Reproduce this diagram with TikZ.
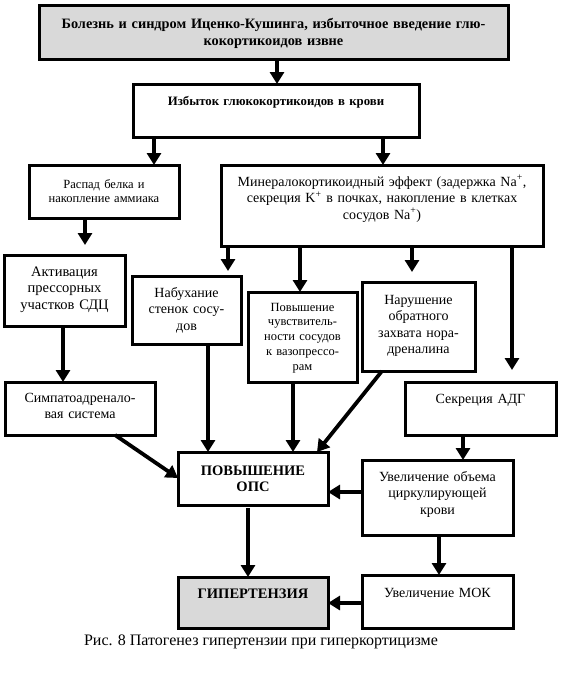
\documentclass[tikz,border=0pt]{standalone}
\usepackage{fontspec}
\setmainfont{Liberation Serif}
\usetikzlibrary{arrows.meta}
\definecolor{PGGray}{HTML}{D9D9D9}
\newcommand\fsN{\fontsize{14pt}{16.5pt}\selectfont}
\newcommand\fsS{\fontsize{12.5pt}{14.8pt}\selectfont}
\newcommand\fsL{\fontsize{14.5pt}{16.5pt}\selectfont}
\newcommand\fsB{\fontsize{14.3pt}{17pt}\selectfont\bfseries}
\newcommand\fsBs{\fontsize{12.8pt}{14pt}\selectfont\bfseries}
\newcommand\fsBL{\fontsize{14.5pt}{16.5pt}\selectfont\bfseries}
\newcommand\fsC{\fontsize{16pt}{18pt}\selectfont}

\begin{document}
\begin{tikzpicture}[x=1pt,y=-1pt,
  blk/.style={draw,line width=3pt,anchor=north west,inner sep=0pt,outer sep=0pt,align=center,font=\fsN},
  arr/.style={line width=3.8pt,-{Triangle[width=14pt,length=12pt]}}]
\path[use as bounding box] (0,0) rectangle (571,678);
\fill[white] (0,0) rectangle (571,678);
\node[blk,fill=PGGray,text width=469pt,text height=23pt,text depth=31pt,font=\fsB] (cush) at (39,5) {Болезнь и синдром Иценко-Кушинга, избыточное введение глю-\\кокортикоидов извне};
\node[blk,text width=286pt,text height=21pt,text depth=32pt,font=\fsBs] (excess) at (133,84) {Избыток глюкокортикоидов в крови};
\node[blk,text width=150pt,text height=23pt,text depth=30pt,font=\fsS] (protein) at (29,165) {Распад белка и\\накопление аммиака};
\node[blk,text width=322pt,text height=21pt,text depth=60pt] (mineral) at (221,165) {Минералокортикоидный эффект (задержка Na\textsuperscript{+},\\секреция K\textsuperscript{+} в почках, накопление в клетках\\сосудов Na\textsuperscript{+})};
\node[blk,text width=121pt,text height=21pt,text depth=50pt,font=\fsL] (sdc) at (4,255) {Активация\\прессорных\\участков СДЦ};
\node[blk,text width=109pt,text height=21pt,text depth=47pt] (swell) at (132,276) {Набухание\\стенок сосу-\\дов};
\node[blk,text width=109pt,text height=19pt,text depth=71pt,font=\fsS] (sens) at (248,292) {Повышение\\чувствитель-\\ности сосудов\\к вазопрессо-\\рам};
\node[blk,text width=113pt,text height=22pt,text depth=67pt] (reuptake) at (362,282) {Нарушение\\обратного\\захвата нора-\\дреналина};
\node[blk,text width=150pt,text height=20pt,text depth=33pt] (sympat) at (5,382) {Симпатоадренало-\\вая система};
\node[blk,text width=151pt,text height=21pt,text depth=32pt] (adh) at (405,382) {Секреция АДГ};
\node[blk,text width=150pt,text height=23pt,text depth=30pt,font=\fsBL] (ops) at (178,452) {ПОВЫШЕНИЕ\\ОПС};
\node[blk,text width=151pt,text height=21pt,text depth=54pt] (volume) at (362,460) {Увеличение объема\\циркулирующей\\крови};
\node[blk,fill=PGGray,text width=150pt,text height=21pt,text depth=30pt,font=\fsBL] (hyper) at (178,577) {ГИПЕРТЕНЗИЯ};
\node[blk,text width=151pt,text height=22pt,text depth=31pt] (mok) at (362,575) {Увеличение МОК};
\node[font=\fsC] (caption) at (261,642) {Рис. 8 Патогенез гипертензии при гиперкортицизме};
\draw[arr] (cush.south -| 277,0) -- (excess.north -| 277,0);
\draw[arr] (excess.south -| 154,0) -- (protein.north -| 154,0);
\draw[arr] (excess.south -| 383,0) -- (mineral.north -| 383,0);
\draw[arr,shorten >=10pt] (protein.south -| 85,0) -- (sdc.north -| 85,0);
\draw[arr,shorten >=5pt] (mineral.south -| 228,0) -- (swell.north -| 228,0);
\draw[arr] (mineral.south -| 300,0) -- (sens.north -| 300,0);
\draw[arr,shorten >=10pt] (mineral.south -| 412,0) -- (reuptake.north -| 412,0);
\draw[arr,shorten >=12pt] (mineral.south -| 512,0) -- (adh.north -| 512,0);
\draw[arr] (sdc.south -| 63,0) -- (sympat.north -| 63,0);
\draw[arr] (swell.south -| 208,0) -- (ops.north -| 208,0);
\draw[arr] (sens.south -| 293,0) -- (ops.north -| 293,0);
\draw[arr] (reuptake.south -| 382,0) -- (ops.north -| 317,0);
\draw[arr] (sympat.south -| 115,0) -- (ops.west |- 0,478);
\draw[arr] (adh.south -| 463,0) -- (volume.north -| 463,0);
\draw[arr] (volume.west |- 0,492) -- (ops.east |- 0,492);
\draw[arr,shorten <=3pt] (ops.south -| 248,0) -- (hyper.north -| 248,0);
\draw[arr] (volume.south -| 439,0) -- (mok.north -| 439,0);
\draw[arr] (mok.west |- 0,603) -- (hyper.east |- 0,603);
\end{tikzpicture}
\end{document}
